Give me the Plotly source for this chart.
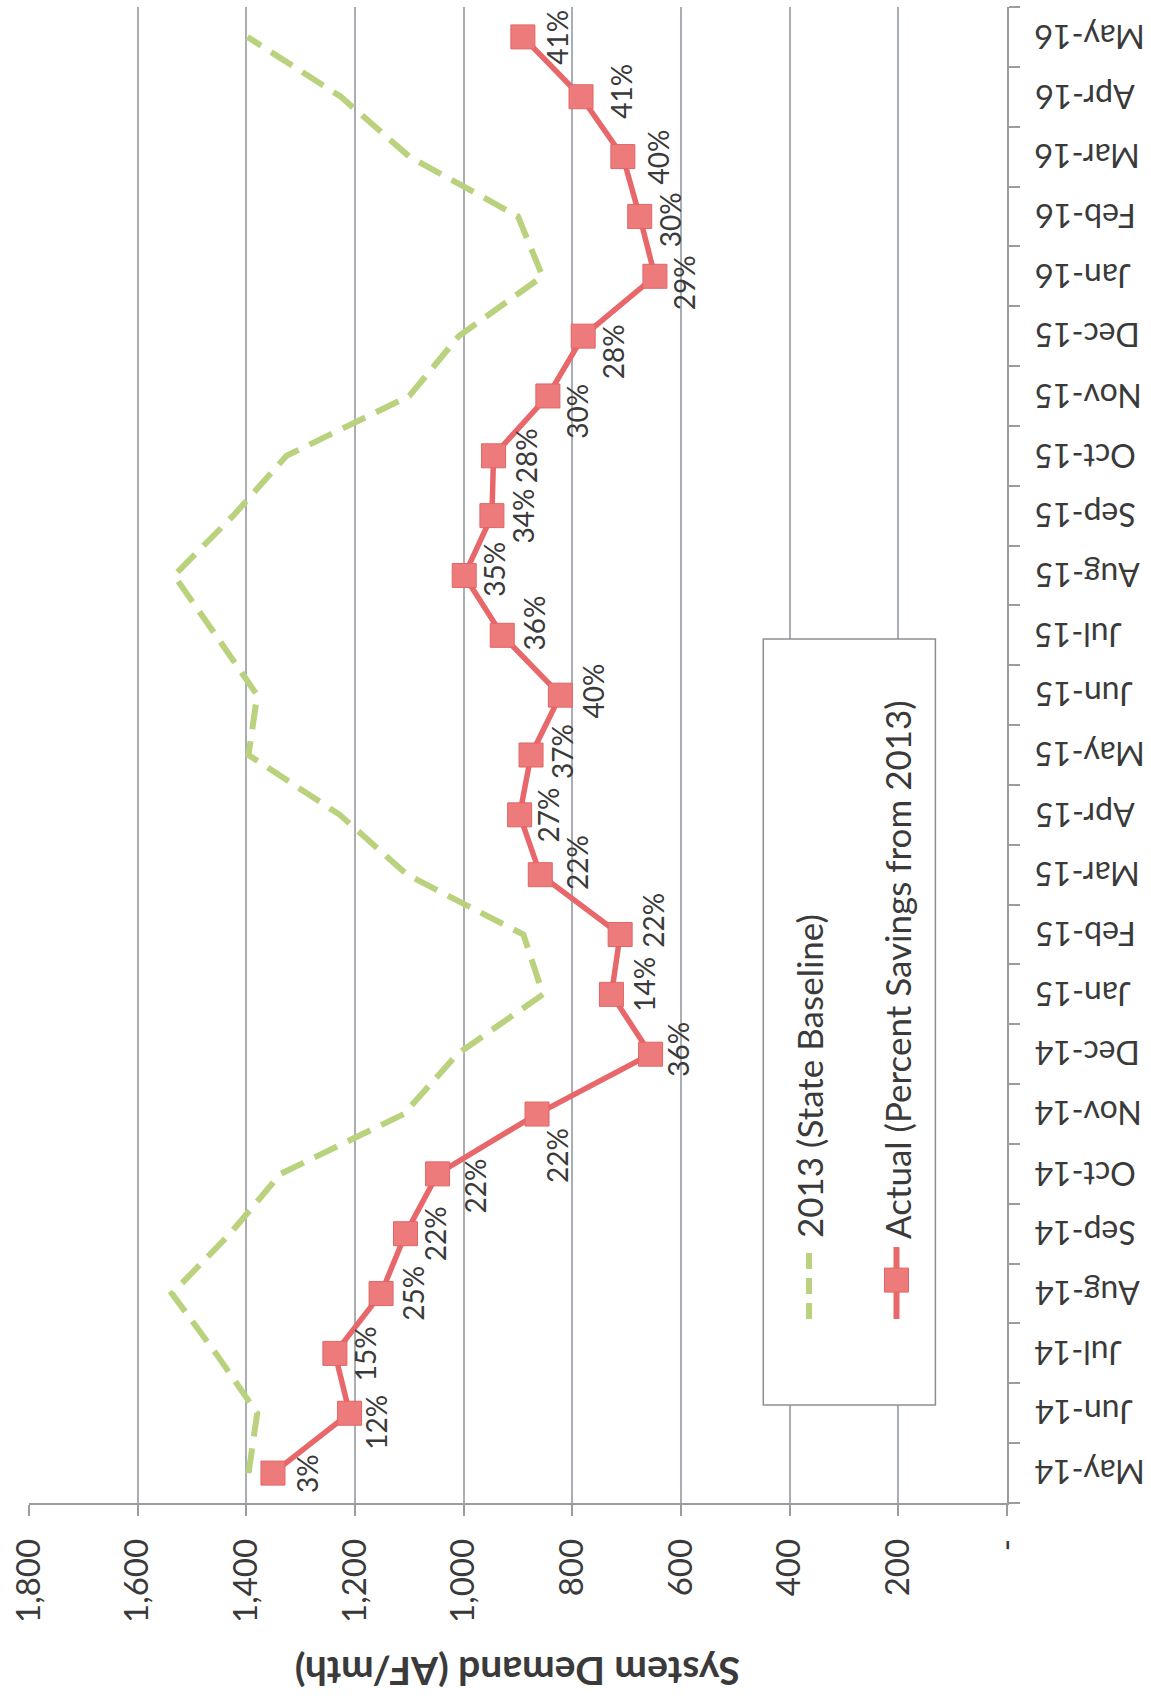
import plotly.graph_objects as go

months = ["May-14", "Jun-14", "Jul-14", "Aug-14", "Sep-14", "Oct-14", "Nov-14", "Dec-14",
          "Jan-15", "Feb-15", "Mar-15", "Apr-15", "May-15", "Jun-15", "Jul-15", "Aug-15",
          "Sep-15", "Oct-15", "Nov-15", "Dec-15", "Jan-16", "Feb-16", "Mar-16", "Apr-16", "May-16"]

baseline_2013 = [1396, 1380, 1456, 1537, 1430, 1337, 1110, 1012,
                 854, 890, 1104, 1228, 1396, 1380, 1456, 1533,
                 1424, 1326, 1100, 1009, 855, 900, 1100, 1226, 1398]

actual = [1351, 1210, 1237, 1152, 1107, 1048, 865, 656,
          728, 712, 859, 897, 876, 822, 929, 999,
          948, 945, 845, 780, 648, 676, 707, 784, 891]

savings_labels = ["3%", "12%", "15%", "25%", "22%", "22%", "22%", "36%",
                  "14%", "22%", "22%", "27%", "37%", "40%", "36%", "35%",
                  "34%", "28%", "30%", "28%", "29%", "30%", "40%", "41%", "41%"]

value_ticks = [0, 200, 400, 600, 800, 1000, 1200, 1400, 1600, 1800]
value_tick_text = ["-", "200", "400", "600", "800", "1,000", "1,200", "1,400", "1,600", "1,800"]

axis_title = "System Demand (AF/mth)"
legend_baseline = "2013 (State Baseline)"
legend_actual = "Actual (Percent Savings from 2013)"

# label placement tweaks (pixels) — style, not data
label_dx = [34, 27, 31, 31, 29, 37, 20, 28, 33, 32, 36, 28, 31, 33, 32, 30, 31, 32, 29, 30, 29, 31, 35, 40, 34]
label_dy = [0, 9, 0, 0, 0, 12, 42, -5, -10, -14, -12, 0, -3, -4, -12, -6, 0, 0, 15, 16, 6, 3, 0, -5, 0]

FONT = "Lato, 'Open Sans', sans-serif"
TXT = "#3a3a3a"
RED = "#E8676B"
RED_M = "#EE7B7B"
GREEN = "#BAD27E"
GRID = "#A9AEB4"
AXIS = "#9A9C9E"

fig = go.Figure()

fig.add_trace(go.Scatter(
    x=baseline_2013, y=months, mode="lines",
    line=dict(color=GREEN, width=6, dash="25px,12px"),
    name=legend_baseline, showlegend=False, cliponaxis=False,
))
fig.add_trace(go.Scatter(
    x=actual, y=months, mode="lines+markers",
    line=dict(color=RED, width=5.5),
    marker=dict(symbol="square", size=24, color=RED_M, line=dict(color="#E26565", width=1)),
    name=legend_actual, showlegend=False, cliponaxis=False,
))

annotations = []
for i, (m, v, t) in enumerate(zip(months, actual, savings_labels)):
    annotations.append(dict(
        x=v, y=m, xref="x", yref="y", text=t, showarrow=False, textangle=-90,
        xshift=label_dx[i], yshift=-label_dy[i],
        font=dict(family=FONT, size=28, color=TXT),
        xanchor="center", yanchor="middle",
    ))

# category labels (upside down, on the right)
for m in months:
    annotations.append(dict(
        x=1.0264, y=m, xref="paper", yref="y", text=m, showarrow=False, textangle=180,
        xanchor="left", yanchor="middle",
        font=dict(family=FONT, size=32, color=TXT),
    ))

# value axis title (upside down)
annotations.append(dict(
    x=0.5, y=-0.1125, xref="paper", yref="paper", text="<b>" + axis_title + "</b>",
    showarrow=False, textangle=180, xanchor="center", yanchor="middle",
    font=dict(family=FONT, size=39, color=TXT),
))

# legend texts
annotations.append(dict(
    x=0.7976, y=0.1758, xref="paper", yref="paper", text=legend_baseline,
    showarrow=False, textangle=-90, xanchor="center", yanchor="bottom",
    font=dict(family=FONT, size=35, color=TXT),
))
annotations.append(dict(
    x=0.887, y=0.1751, xref="paper", yref="paper", text=legend_actual,
    showarrow=False, textangle=-90, xanchor="center", yanchor="bottom",
    font=dict(family=FONT, size=35, color=TXT),
))

shapes = [
    dict(type="rect", xref="paper", yref="paper", x0=0.7508, x1=0.9268, y0=0.0655, y1=0.5775,
         line=dict(color="#8E8E8E", width=1.5), fillcolor="white", layer="above"),
    dict(type="line", xref="paper", yref="paper", x0=0.7976, x1=0.7976, y0=0.123, y1=0.1725,
         line=dict(color=GREEN, width=6, dash="16px,9px"), layer="above"),
    dict(type="line", xref="paper", yref="paper", x0=0.887, x1=0.887, y0=0.123, y1=0.1711,
         line=dict(color=RED, width=6), layer="above"),
    dict(type="rect", xref="paper", yref="paper", xsizemode="pixel", ysizemode="pixel",
         xanchor=0.887, yanchor=0.149, x0=-12, x1=12, y0=-12, y1=12,
         fillcolor=RED_M, line=dict(color="#E26565", width=1), layer="above"),
]

fig.update_layout(
    width=1151, height=1699,
    margin=dict(l=24, r=144, t=7, b=196),
    paper_bgcolor="white", plot_bgcolor="white",
    showlegend=False,
    annotations=annotations, shapes=shapes,
    xaxis=dict(
        range=[1800, 0], tickvals=value_ticks, ticktext=value_tick_text,
        tickangle=-90, tickfont=dict(family=FONT, size=33, color=TXT),
        showgrid=True, gridcolor=GRID, gridwidth=1.5, zeroline=False,
        showline=True, linecolor=AXIS, linewidth=1.5,
        ticks="outside", ticklen=11, tickcolor=AXIS, tickwidth=1.5,
        ticklabelstandoff=10,
    ),
    yaxis=dict(
        type="category", categoryorder="array", categoryarray=months,
        range=[-0.5, len(months) - 0.5], side="right",
        showgrid=False, zeroline=False, showticklabels=False,
        showline=True, linecolor=AXIS, linewidth=1.5,
        ticks="outside", ticklen=11, tickcolor=AXIS, tickwidth=1.5, tickson="boundaries",
    ),
)

fig.write_html("out.html")
